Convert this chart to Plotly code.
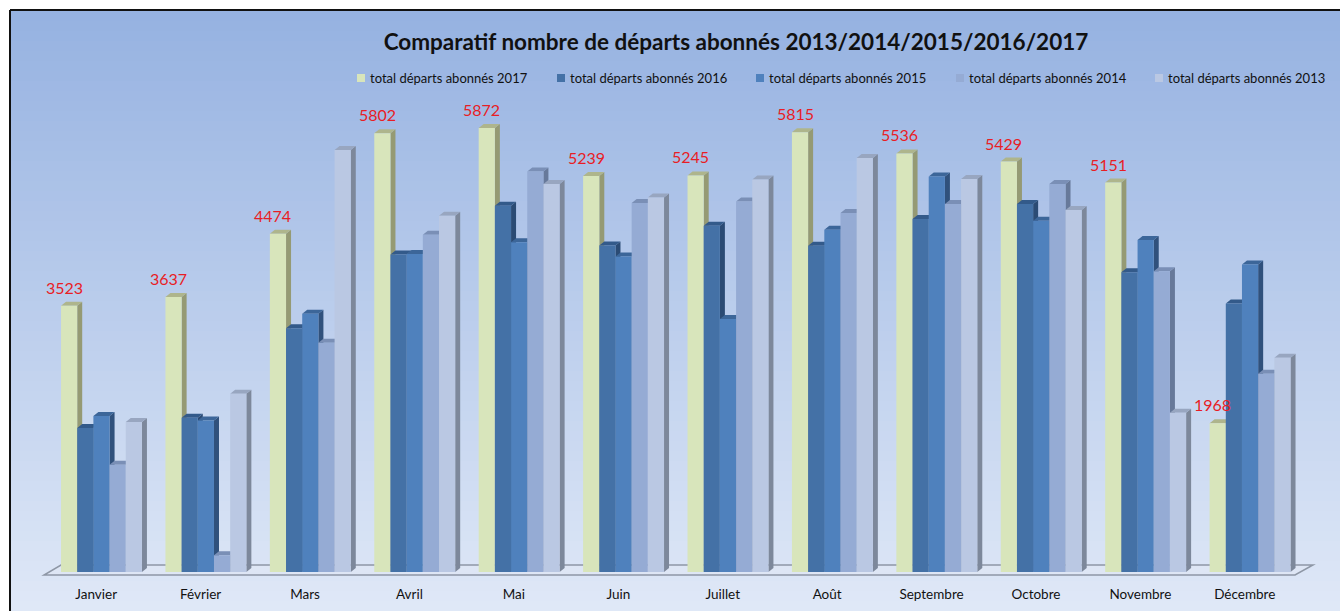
import plotly.graph_objects as go

months = ["Janvier", "Février", "Mars", "Avril", "Mai", "Juin", "Juillet",
          "Août", "Septembre", "Octobre", "Novembre", "Décembre"]
series_names = ["total départs abonnés 2017", "total départs abonnés 2016",
                "total départs abonnés 2015", "total départs abonnés 2014",
                "total départs abonnés 2013"]
v2017 = [3523, 3637, 4474, 5802, 5872, 5239, 5245, 5815, 5536, 5429, 5151, 1968]
v2016 = [1905, 2040, 3225, 4200, 4845, 4320, 4580, 4316, 4670, 4866, 3965, 3550]
v2015 = [2065, 2005, 3415, 4205, 4360, 4172, 3347, 4528, 5232, 4646, 4392, 4066]
v2014 = [1418, 222, 3032, 4462, 5298, 4882, 4902, 4750, 4868, 5132, 3977, 2622]
v2013 = [1984, 2358, 5582, 4713, 5132, 4955, 5190, 5475, 5198, 4788, 2108, 2834]
values = [v2017, v2016, v2015, v2014, v2013]

front_cols = ["#d8e5bb", "#4471a6", "#4f81bd", "#95abd4", "#bac8e3"]
top_cols = ["#aeb58c", "#335a8a", "#3c6699", "#7a8fb6", "#98a6c0"]
side_cols = ["#959a74", "#2b4b74", "#30517c", "#67799a", "#7d889b"]

# geometry in screen pixels (page body margin removed by post_script below)
FW, FH = 1340, 611
PL, PT, PB = 44, 100, 572          # plot area left/top/bottom
W = 1253
H = PB - PT
L, T = PL, PT
R = FW - L - W
B = FH - T - H
YMAX = 6243

def px2x(px):
    return (px - PL) / W

def py2y(py):
    return (PB - py) / H

bw = 0.155          # bar width (category units)
off0 = -0.337       # offset of first bar from category centre
dx = 5 / (W / 12)   # depth shift in x (data units)
dy = 4 * YMAX / H   # depth shift in y (data units)

fig = go.Figure()

# background gradient
n = 60
c0 = (150, 178, 225)
c1 = (223, 232, 247)
y_top, y_bot = 11, 611
for i in range(n):
    t = i / (n - 1)
    c = tuple(round(c0[j] + (c1[j] - c0[j]) * t) for j in range(3))
    ya = y_top + (y_bot - y_top) * i / n
    yb = y_top + (y_bot - y_top) * (i + 1) / n + 0.6
    if i == n - 1:
        yb = 625
    fig.add_shape(type="rect", xref="paper", yref="paper",
                  x0=px2x(11), x1=px2x(1348), y0=py2y(ya), y1=py2y(yb),
                  fillcolor="rgb(%d,%d,%d)" % c, line_width=0, layer="below")
# frame (left and top edges; the others run off the picture)
fig.add_shape(type="line", xref="paper", yref="paper",
              x0=px2x(10), x1=px2x(10), y0=py2y(10), y1=py2y(625),
              line=dict(color="#111111", width=2), layer="below")
fig.add_shape(type="line", xref="paper", yref="paper",
              x0=px2x(10), x1=px2x(1348), y0=py2y(10), y1=py2y(10),
              line=dict(color="#111111", width=2), layer="below")
# floor
fig.add_shape(type="path", xref="paper", yref="paper",
              path="M %f %f L %f %f L %f %f L %f %f Z" % (
                  px2x(44), py2y(575), px2x(1295), py2y(575),
                  px2x(1313), py2y(565), px2x(61), py2y(565)),
              line=dict(color="#8e97a6", width=1.5), fillcolor="rgba(225,232,244,0.5)",
              layer="below")

# legend (drawn as markers + text)
leg_x = [357, 557, 756, 956, 1155]
for k in range(5):
    mx = leg_x[k]
    fig.add_shape(type="rect", xref="paper", yref="paper",
                  x0=px2x(mx), x1=px2x(mx + 8), y0=py2y(74), y1=py2y(82),
                  fillcolor=front_cols[k], line_width=0)
    fig.add_annotation(xref="paper", yref="paper", x=px2x(mx + 11), y=py2y(78.5),
                       xanchor="left", yanchor="middle", showarrow=False,
                       text=series_names[k],
                       font=dict(family="Lato", size=13, color="#111111"))

for k in range(5):
    vals = values[k]
    off = off0 + k * bw
    sx, sy, tx, ty = [], [], [], []
    for i, v in enumerate(vals):
        xl = i + off
        xr = xl + bw
        sx += [xr, xr + dx, xr + dx, xr, xr, None]
        sy += [0, dy, v + dy, v, 0, None]
        tx += [xl, xr, xr + dx, xl + dx, xl, None]
        ty += [v, v, v + dy, v + dy, v, None]
    fig.add_trace(go.Scatter(x=sx, y=sy, mode="lines", fill="toself",
                             fillcolor=side_cols[k], line=dict(width=0, color=side_cols[k]),
                             showlegend=False, hoverinfo="skip", zorder=3 * k))
    fig.add_trace(go.Scatter(x=tx, y=ty, mode="lines", fill="toself",
                             fillcolor=top_cols[k], line=dict(width=0, color=top_cols[k]),
                             showlegend=False, hoverinfo="skip", zorder=3 * k + 1))
    fig.add_trace(go.Bar(x=list(range(12)), y=vals, offset=off, width=bw,
                         marker=dict(color=front_cols[k], line_width=0),
                         name=series_names[k], showlegend=False, zorder=3 * k + 2))

# value labels for 2017
for i, v in enumerate(v2017):
    fig.add_annotation(x=i + off0 + bw / 2, y=v, text=str(v), showarrow=False,
                       yanchor="bottom", yshift=7, xshift=-5,
                       font=dict(family="Lato", size=16, color="#e81d25"))

fig.update_layout(
    width=FW, height=FH,
    margin=dict(l=L, r=R, t=T, b=B, autoexpand=False),
    paper_bgcolor="white",
    plot_bgcolor="rgba(0,0,0,0)",
    barmode="overlay",
    title=dict(text="<b>Comparatif nombre de départs abonnés 2013/2014/2015/2016/2017</b>",
               x=736 / FW, xanchor="center", y=1 - 42 / FH, yanchor="middle",
               xref="container", yref="container",
               font=dict(family="Lato", size=22.5, color="#111111")),
    xaxis=dict(range=[-0.5, 11.5], tickmode="array", tickvals=list(range(12)),
               ticktext=months, showgrid=False, zeroline=False, showline=False,
               ticks="", ticklabelstandoff=12, automargin=False,
               tickfont=dict(family="Lato", size=13.5, color="#111111"), fixedrange=True),
    yaxis=dict(range=[0, YMAX], visible=False, showgrid=False, zeroline=False,
               automargin=False, fixedrange=True),
    showlegend=False,
)

fig.write_html("out.html",
               config={"displayModeBar": False},
               post_script="document.body.style.margin='0';"
                           "document.body.style.overflow='hidden';")
